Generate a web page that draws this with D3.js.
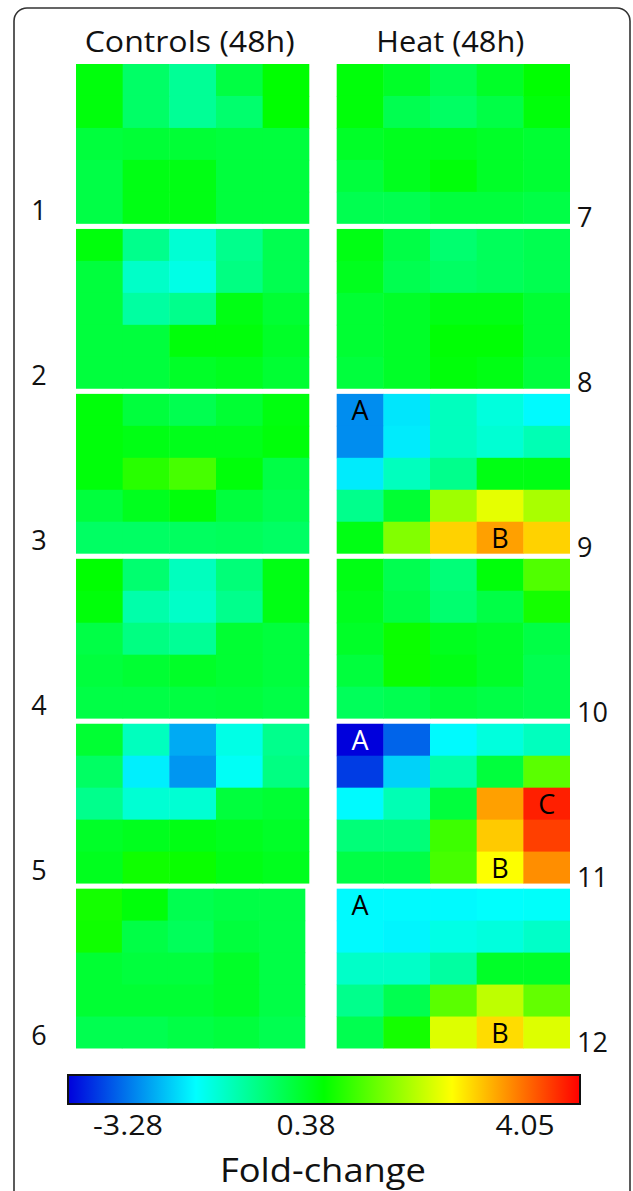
<!DOCTYPE html>
<html>
<head>
<meta charset="utf-8">
<script src="https://cdn.jsdelivr.net/npm/d3@7"></script>
<style>
  html, body { margin: 0; padding: 0; background: #fff; }
  svg { display: block; }
  text { font-family: "Open Sans", "Noto Sans", sans-serif; fill: #111; }
</style>
</head>
<body>
<svg id="chart" width="633" height="1191"></svg>
<script>
// ---------------- DATA ----------------
const groups = ["Controls (48h)", "Heat (48h)"];
const panelIds = [[1, 2, 3, 4, 5, 6], [7, 8, 9, 10, 11, 12]];
const colorStops = [-3.28, -1.4475, 0.385, 2.2175, 4.05];
const colorRange = ["#0000dc", "#00ffff", "#00ff00", "#ffff00", "#ff0000"];
const tickValues = [-3.28, 0.38, 4.05];
const tickLabels = ["-3.28", "0.38", "4.05"];
const legendTitle = "Fold-change";

// 5x5 fold-change values per panel (rows top→bottom, columns left→right)
const p1 = [[0.30, -0.35, -0.69, -0.10, 0.38], [0.30, -0.35, -0.69, -0.40, 0.38], [-0.05, 0.00, 0.00, -0.05, -0.05], [-0.12, 0.24, 0.24, -0.05, -0.05], [-0.12, 0.24, 0.24, -0.05, -0.05]];
const p2 = [[0.30, -0.62, -1.13, -0.62, -0.19], [-0.05, -1.05, -1.27, -0.55, -0.19], [-0.05, -0.77, -0.62, 0.24, 0.02], [-0.05, -0.05, 0.31, 0.31, 0.10], [-0.05, -0.05, 0.10, 0.17, 0.02]];
const p3 = [[0.31, -0.05, -0.19, 0.02, 0.28], [0.31, 0.24, 0.20, 0.20, 0.31], [0.31, 0.67, 0.89, 0.31, -0.12], [-0.05, 0.17, 0.31, -0.05, -0.19], [-0.33, -0.33, -0.30, -0.26, -0.33]];
const p4 = [[0.38, -0.41, -0.98, -0.48, 0.24], [0.31, -0.84, -1.05, -0.62, 0.24], [-0.12, -0.55, -0.69, 0.02, -0.05], [-0.05, 0.02, 0.10, 0.02, -0.05], [-0.12, -0.12, -0.08, -0.05, -0.12]];
const p5 = [[0.02, -0.98, -2.06, -1.27, -0.62], [-0.33, -1.56, -2.20, -1.38, -0.55], [-0.62, -1.13, -1.13, -0.05, 0.02], [0.10, 0.17, 0.24, 0.17, 0.10], [0.17, 0.49, 0.45, 0.24, 0.17]];
const p6 = [[0.53, 0.31, -0.19, -0.12, -0.12], [0.49, -0.12, -0.26, -0.05, -0.12], [0.02, -0.05, -0.05, 0.10, -0.12], [0.02, 0.02, 0.02, 0.10, -0.12], [-0.19, -0.19, -0.12, -0.05, -0.19]];
const p7 = [[0.31, 0.10, -0.19, 0.10, 0.38], [0.31, -0.19, -0.33, -0.12, 0.31], [0.10, 0.17, 0.17, 0.10, 0.02], [-0.05, 0.17, 0.31, 0.10, 0.02], [-0.19, -0.19, -0.05, -0.05, -0.12]];
const p8 = [[0.24, -0.12, -0.41, -0.26, -0.19], [0.17, -0.19, -0.33, -0.26, -0.19], [0.02, 0.10, 0.24, 0.24, 0.02], [0.02, 0.10, 0.35, 0.35, 0.02], [-0.05, 0.10, 0.31, 0.24, -0.05]];
const p9 = [[-2.27, -1.63, -0.98, -1.20, -1.48], [-2.27, -1.59, -0.98, -1.13, -0.91], [-1.59, -0.98, -0.62, 0.24, 0.24], [-0.62, 0.02, 1.53, 2.04, 1.60], [0.24, 1.32, 2.54, 2.90, 2.54]];
const p10 = [[0.24, -0.19, -0.48, 0.31, 0.96], [0.17, -0.12, -0.41, -0.12, 0.53], [0.10, 0.46, 0.17, 0.10, -0.12], [-0.05, 0.46, 0.24, 0.10, -0.19], [-0.26, -0.19, -0.05, -0.12, -0.19]];
const p11 = [[-3.28, -2.56, -1.48, -1.20, -0.98], [-2.85, -1.77, -0.84, -0.05, 1.03], [-1.48, -0.91, -0.05, 2.90, 3.83], [-0.48, -0.48, 0.82, 2.60, 3.60], [-0.12, -0.12, 0.89, 2.20, 3.03]];
const p12 = [[-1.48, -1.48, -1.48, -1.43, -1.41], [-1.48, -1.52, -1.27, -1.20, -1.05], [-1.05, -1.05, -0.77, 0.10, 0.10], [-0.62, -0.19, 1.03, 1.75, 1.10], [-0.19, 0.53, 1.97, 2.47, 1.97]];
const panels = [p1, p2, p3, p4, p5, p6, p7, p8, p9, p10, p11, p12];

// cell annotations: [panel id, row, col, letter, colour]
const annotations = [
  [9, 0, 0, "A", "#000"], [9, 4, 3, "B", "#000"],
  [11, 0, 0, "A", "#fff"], [11, 2, 4, "C", "#000"], [11, 4, 3, "B", "#000"],
  [12, 0, 0, "A", "#000"], [12, 4, 3, "B", "#000"]
];

// ---------------- DRAW ----------------
const svg = d3.select("#chart");
const color = d3.scaleLinear().domain(colorStops).range(colorRange).clamp(true);

// frame
svg.append("rect").attr("x", 14).attr("y", 8).attr("width", 616).attr("height", 1220)
  .attr("rx", 13).attr("fill", "none").attr("stroke", "#333").attr("stroke-width", 1.6);

const colX = d3.scaleBand().domain([0, 1]).range([76, 570]).paddingInner(0.105);
const rowY = d3.scaleBand().domain(d3.range(6)).range([64, 1048.5]).paddingInner(0.031);
const cellIdx = d3.range(5);

// group titles
svg.selectAll("text.group").data(groups).join("text")
  .attr("class", "group")
  .attr("x", (d, i) => colX(i) + colX.bandwidth() / 2 - 3)
  .attr("y", 52)
  .attr("text-anchor", "middle")
  .attr("font-size", 30)
  .attr("textLength", (d, i) => i === 0 ? 210 : 148)
  .attr("lengthAdjust", "spacingAndGlyphs")
  .text(d => d);

panelIds.forEach((ids, gi) => {
  ids.forEach((id, ri) => {
    const data = panels[id - 1];
    const x0 = colX(gi), y0 = rowY(ri);
    // last control panel is drawn slightly narrower in the original
    const w = colX.bandwidth() - (gi === 0 && ri === 5 ? 4 : 0), h = rowY.bandwidth();
    const cx = d3.scaleBand().domain(cellIdx).range([x0, x0 + w]);
    const cy = d3.scaleBand().domain(cellIdx).range([y0, y0 + h]);
    const g = svg.append("g").attr("class", "panel");
    const cells = [];
    data.forEach((row, r) => row.forEach((v, c) => cells.push({ r, c, v })));
    g.selectAll("rect").data(cells).join("rect")
      .attr("x", d => cx(d.c))
      .attr("y", d => cy(d.r))
      .attr("width", d => cx.bandwidth() + (d.c < 4 ? 0.5 : 0))
      .attr("height", d => cy.bandwidth() + (d.r < 4 ? 0.5 : 0))
      .attr("fill", d => color(d.v));

    annotations.filter(a => a[0] === id).forEach(a => {
      g.append("text")
        .attr("x", cx(a[2]) + cx.bandwidth() / 2)
        .attr("y", cy(a[1]) + cy.bandwidth() / 2 + 10)
        .attr("text-anchor", "middle")
        .attr("font-size", 27)
        .style("fill", a[4])
        .text(a[3]);
    });

    // panel number
    svg.append("text")
      .attr("x", gi === 0 ? 39 : 577)
      .attr("y", gi === 0 ? y0 + h - 4 : y0 + h + 3)
      .attr("text-anchor", gi === 0 ? "middle" : "start")
      .attr("font-size", 27)
      .text(id);
  });
});

// colour bar
const barX = d3.scaleLinear().domain([colorStops[0], colorStops[4]]).range([68, 580]);
const defs = svg.append("defs");
const grad = defs.append("linearGradient").attr("id", "fc-grad").attr("x1", "0%").attr("x2", "100%");
const nStops = 60;
d3.range(nStops + 1).forEach(i => {
  const v = colorStops[0] + (colorStops[4] - colorStops[0]) * i / nStops;
  grad.append("stop").attr("offset", (i / nStops * 100) + "%").attr("stop-color", color(v));
});
svg.append("rect")
  .attr("x", barX.range()[0]).attr("y", 1075)
  .attr("width", barX.range()[1] - barX.range()[0]).attr("height", 29)
  .attr("fill", "url(#fc-grad)").attr("stroke", "#111").attr("stroke-width", 2);

const labelX = d3.scaleLinear().domain(tickValues).range([128, 306, 525]);
svg.selectAll("text.tick").data(tickValues).join("text")
  .attr("class", "tick")
  .attr("x", d => labelX(d))
  .attr("y", 1135)
  .attr("text-anchor", "middle")
  .attr("font-size", 28)
  .attr("textLength", (d, i) => i === 0 ? 70 : 59)
  .attr("lengthAdjust", "spacingAndGlyphs")
  .text((d, i) => tickLabels[i]);

svg.append("text")
  .attr("x", 323).attr("y", 1182)
  .attr("text-anchor", "middle")
  .attr("font-size", 32)
  .attr("textLength", 206)
  .attr("lengthAdjust", "spacingAndGlyphs")
  .text(legendTitle);
</script>
</body>
</html>
